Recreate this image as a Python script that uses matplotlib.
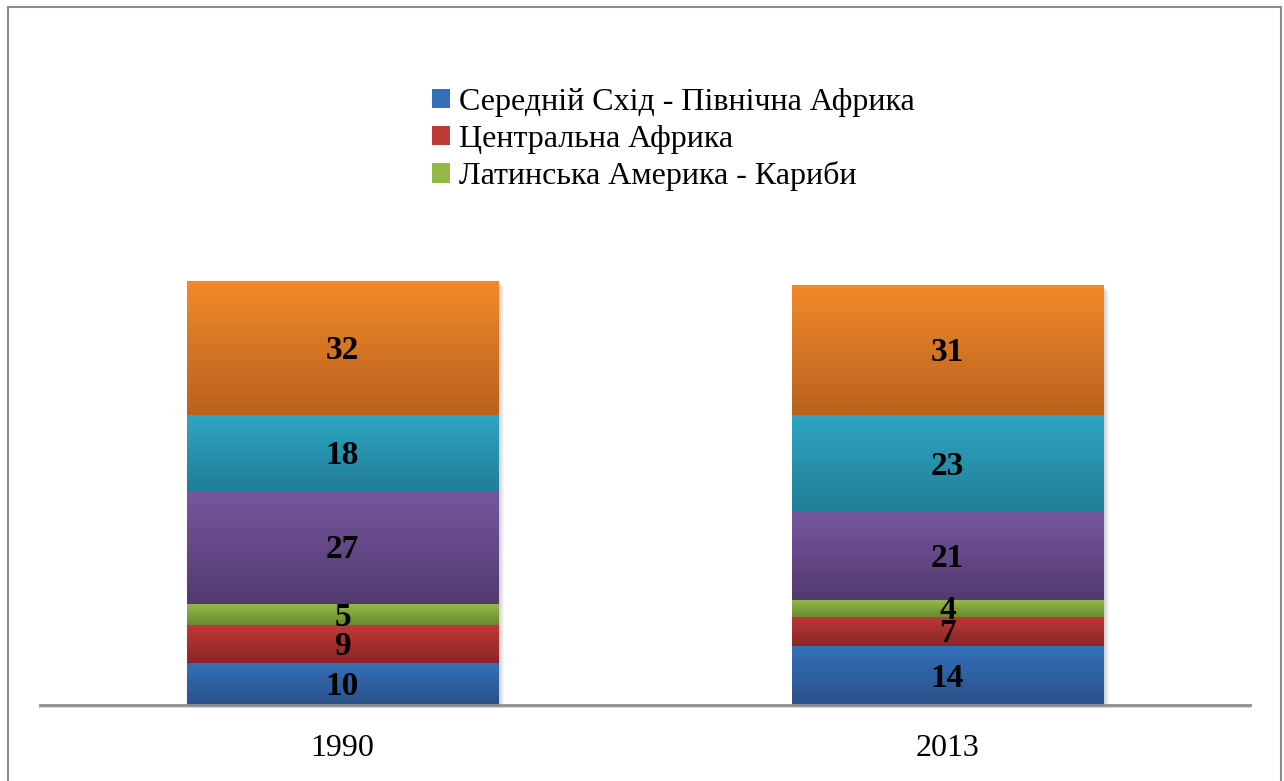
import numpy as np
import matplotlib.pyplot as plt
from matplotlib.patches import Rectangle
from matplotlib.colors import LinearSegmentedColormap

plt.rcParams['font.family'] = ['Liberation Serif', 'DejaVu Serif']

years = ['1990', '2013']
series_names = ['Середній Схід - Північна Африка', 'Центральна Африка',
                'Латинська Америка - Кариби', '', '', '']
values = [
    [10, 14],
    [9, 7],
    [5, 4],
    [27, 21],
    [18, 23],
    [32, 31],
]
# (top colour, bottom colour) for each series
colors = [
    ('#3370b8', '#2a5189'),
    ('#be3a36', '#8a2526'),
    ('#93b846', '#6a8a2e'),
    ('#76569e', '#523a70'),
    ('#2ea6c4', '#217d95'),
    ('#f28a2a', '#b9621d'),
]

W, H = 1284, 781
fig = plt.figure(figsize=(W / 100, H / 100), dpi=100)

# outer frame
fig.patches.append(Rectangle((8 / W, -0.01), (1281 - 8) / W, 1.01 - 7 / H,
                             transform=fig.transFigure, fill=False,
                             edgecolor='#8c8c8c', linewidth=1.5))

ymax = 101
ax = fig.add_axes([40 / W, 1 - 705 / H, 1210 / W, 4.2 * ymax / H])
ax.set_xlim(-0.5, 1.5)
ax.set_ylim(0, ymax)
ax.axis('off')

x = np.arange(len(years))
width = 0.515
bottoms = np.zeros(len(years))
grad = np.linspace(0, 1, 64).reshape(-1, 1)

handles = []
for i, (vals, name) in enumerate(zip(values, series_names)):
    top_c, bot_c = colors[i]
    cmap = LinearSegmentedColormap.from_list('g%d' % i, [top_c, bot_c])
    bars = ax.bar(x, vals, width, bottom=bottoms, color=top_c, linewidth=0, zorder=2)
    for b, v, bt in zip(bars, vals, bottoms):
        bx, bw = b.get_x(), b.get_width()
        im = ax.imshow(grad, cmap=cmap, aspect='auto', zorder=3,
                       extent=(bx, bx + bw, bt, bt + v), interpolation='bilinear')
        im.set_clip_path(b)
        ax.annotate(str(v), (bx + bw / 2, bt + v / 2), xytext=(0, -11),
                    textcoords='offset pixels', ha='center', va='baseline',
                    fontsize=24, fontweight='bold', color='black', zorder=5)
    if name:
        handles.append((bars, name))
    bottoms = bottoms + np.array(vals)

# soft shadow to the right of the stacks
for xi, tot in zip(x, bottoms):
    for k in range(1, 7):
        ax.add_patch(Rectangle((xi - width / 2 + 0.0017 * k, -0.25 * k), width, tot,
                               color='#000000', alpha=0.035, linewidth=0, zorder=1))

ax.set_xlim(-0.5, 1.5)
ax.set_ylim(0, ymax)

# baseline
ax.plot([-0.5, 1.5], [0, 0], color='#8f8f8f', linewidth=2, zorder=6, clip_on=False)
ax.plot([-0.5, 1.5], [-0.5, -0.5], color='#d6d6d6', linewidth=1.5, zorder=1, clip_on=False)

for xi, yr in zip(x, years):
    ax.text(xi, -10.3, yr, ha='center', va='center', fontsize=23, color='black')

leg = ax.legend([h for h, _ in handles], [n for _, n in handles],
                loc='upper left', bbox_to_anchor=(416 / W, 1 - 72 / H),
                bbox_transform=fig.transFigure, frameon=False, fontsize=23,
                handlelength=0.55, handleheight=0.55, handletextpad=0.3,
                labelspacing=0.24, borderpad=0)

fig.savefig('out.png', dpi=100)
